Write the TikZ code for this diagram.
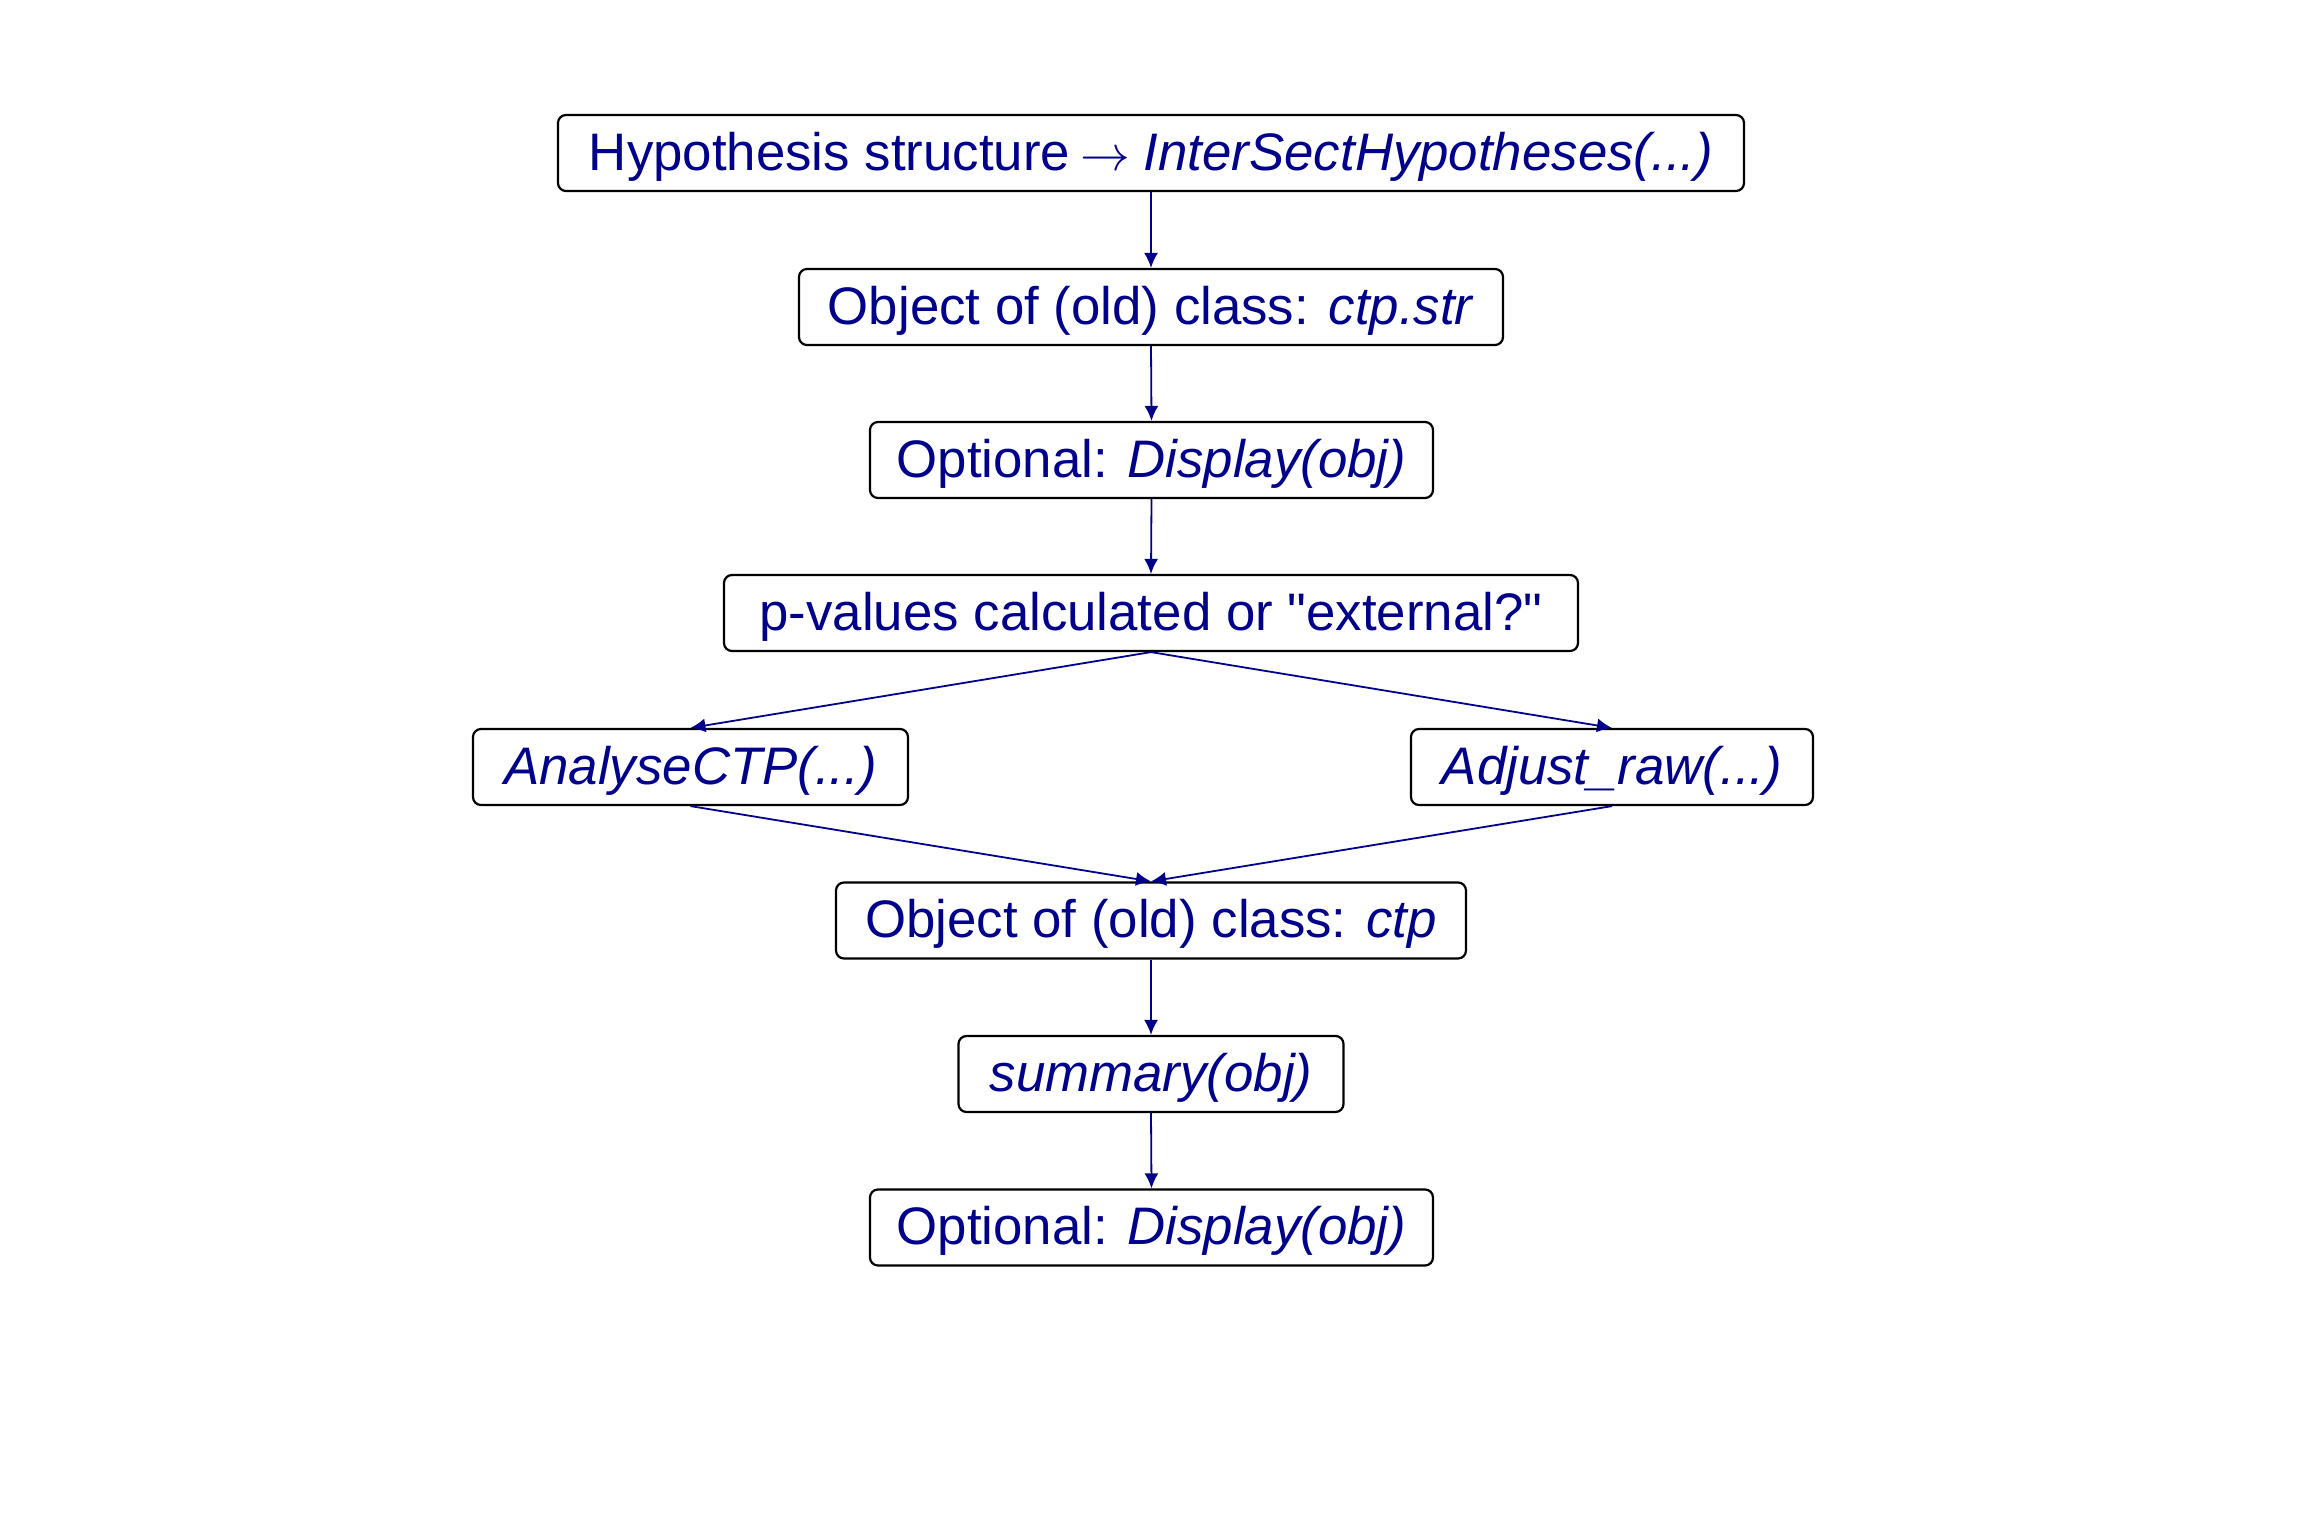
\documentclass[tikz,border=0pt]{standalone}
\usepackage{fontspec}
\setmainfont{Liberation Sans}
\usetikzlibrary{arrows.meta}
\definecolor{ink}{RGB}{0,0,139}
\begin{document}
\begin{tikzpicture}[x=0.5pt,y=-0.5pt,
  fbox/.style={draw=black, line width=1.1pt, rounded corners=4pt, inner sep=0pt,
    minimum height=38pt, text height=25pt, text depth=8pt, text=ink,
    font=\fontsize{26.4}{32}\selectfont},
  conn/.style={draw=ink, line width=0.9pt, -{Latex[length=7.5pt,width=7pt]}}]
\useasboundingbox (0,0) rectangle (2304,1536);
\node[fbox, minimum width=593pt] (hyp) at (1151,153) {Hypothesis structure\hspace{0.2em}${\rightarrow}$\hspace{0.25em}\textit{InterSectHypotheses(...)}};
\node[fbox, minimum width=352pt] (str) at (1151,307) {Object of (old) class: \textit{ctp.str}};
\node[fbox, minimum width=281.5pt] (disp1) at (1151.5,460) {Optional: \textit{Display(obj)}};
\node[fbox, minimum width=427pt] (pval) at (1151,613) {p-values calculated or \textquotedbl external?\textquotedbl~};
\node[fbox, minimum width=217.5pt] (ana) at (690.5,767) {\textit{AnalyseCTP(...)}};
\node[fbox, minimum width=201pt] (adj) at (1612,767) {\textit{Adjust\_raw(...)}};
\node[fbox, minimum width=315pt] (ctp) at (1151,920.5) {Object of (old) class: \textit{ctp}};
\node[fbox, minimum width=192.5pt] (sum) at (1151,1074) {\textit{summary(obj)}};
\node[fbox, minimum width=281.5pt] (disp2) at (1151.5,1227.5) {Optional: \textit{Display(obj)}};
\draw[conn] (hyp.south) -- (str.north);
\draw[conn] (str.south) -- (disp1.north);
\draw[conn] (disp1.south) -- (pval.north);
\draw[conn] (pval.south) -- (ana.north);
\draw[conn] (pval.south) -- (adj.north);
\draw[conn] (ana.south) -- (ctp.north);
\draw[conn] (adj.south) -- (ctp.north);
\draw[conn] (ctp.south) -- (sum.north);
\draw[conn] (sum.south) -- (disp2.north);
\end{tikzpicture}
\end{document}
